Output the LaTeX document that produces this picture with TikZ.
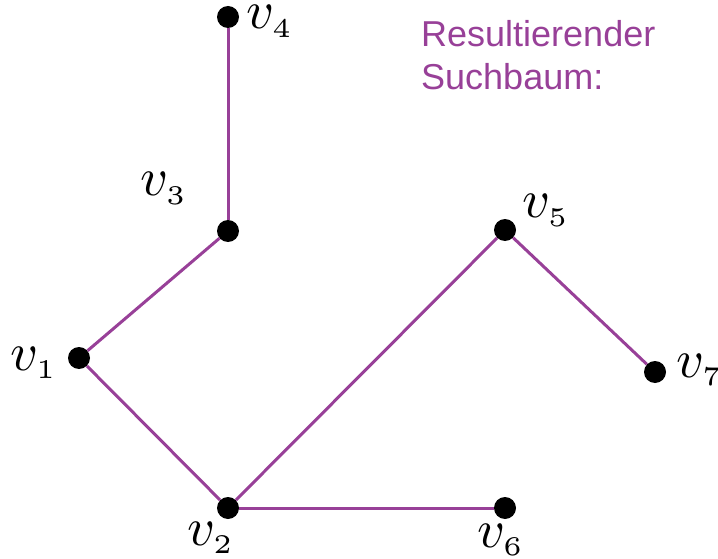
\documentclass[tikz,border=0pt]{standalone}
\usepackage{fontspec}
\usepackage{graphicx}
\newfontfamily\arialfont{Liberation Sans}
\definecolor{treepurple}{RGB}{152,64,152}
\newcommand{\vlab}[1]{\scalebox{5.4}{$v_{\scriptscriptstyle #1}$}}
\tikzset{
  dot/.style={circle, fill=black, minimum size=22pt, inner sep=0pt},
  edge/.style={draw=treepurple, line width=3pt},
  lab/.style={inner sep=0pt, anchor=base west},
  title/.style={inner sep=0pt, anchor=base west, align=left, text=treepurple,
    font=\arialfont\fontsize{36}{43}\selectfont}
}
\begin{document}
\begin{tikzpicture}[x=1pt,y=-1pt]
\useasboundingbox (0,0) rectangle (718,559);
\node[dot] (v4) at (228,17) {};
\node[dot] (v3) at (228,231) {};
\node[dot] (v1) at (79,358) {};
\node[dot] (v2) at (228,508) {};
\node[dot] (v6) at (505,508) {};
\node[dot] (v5) at (505,230) {};
\node[dot] (v7) at (655,372) {};
\draw[edge] (v4) -- (v3);
\draw[edge] (v3) -- (v1);
\draw[edge] (v1) -- (v2);
\draw[edge] (v2) -- (v6);
\draw[edge] (v2) -- (v5);
\draw[edge] (v5) -- (v7);
\node[lab] (l4) at (246,29) {\vlab{4}};
\node[lab] (l3) at (140,196) {\vlab{3}};
\node[lab] (l1) at (10,370) {\vlab{1}};
\node[lab] (l2) at (187,545) {\vlab{2}};
\node[lab] (l6) at (477,547) {\vlab{6}};
\node[lab] (l5) at (522,218) {\vlab{5}};
\node[lab] (l7) at (676,377) {\vlab{7}};
\node[title] (t) at (421,90) {Resultierender\\Suchbaum:};
\end{tikzpicture}
\end{document}
